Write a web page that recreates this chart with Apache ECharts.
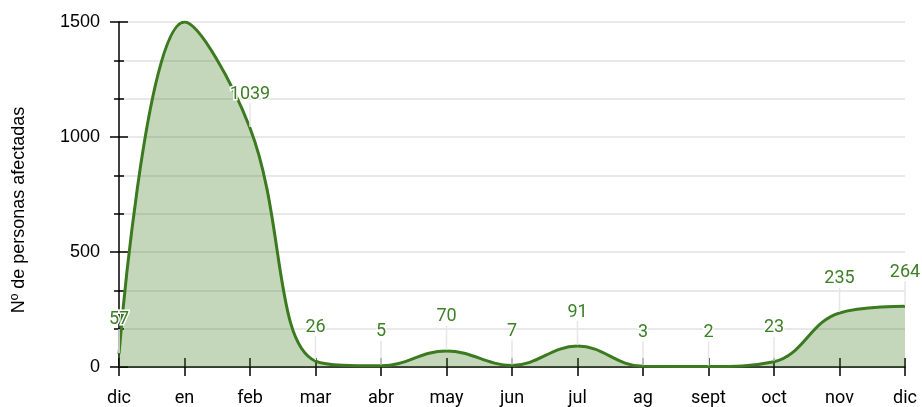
<!DOCTYPE html>
<html>
<head>
<meta charset="utf-8">
<script src="https://cdn.jsdelivr.net/npm/echarts@6/dist/echarts.min.js"></script>
<style>
  html, body { margin: 0; padding: 0; background: #fff; }
  #chart-wrapper { width: 922px; height: 407px; }
</style>
</head>
<body>
<div id="chart-wrapper"></div>
<script>
// months from dic to dic
const meses = ["dic", "en", "feb", "mar", "abr", "may", "jun", "jul", "ag", "sept", "oct", "nov", "dic"];
const afectados = [57, 1500, 1039, 26, 5, 70, 7, 91, 3, 2, 23, 235, 264];
const yTicks = [0, 500, 1000, 1500];

const verde = "#3b7a1f";
const gris = "#e2e2e2";

const chartDom = document.getElementById("chart-wrapper");
const chart = echarts.init(chartDom);

const option = {
  animation: false,
  backgroundColor: "#fff",
  grid: { left: 119, right: 17, top: 22, bottom: 40 },
  graphic: [
    {
      type: "text",
      x: 19,
      y: 210,
      rotation: Math.PI / 2,
      style: {
        text: "Nº de personas afectadas",
        font: '18px "Liberation Sans", Arial, sans-serif',
        fill: "#000",
        align: "center",
        verticalAlign: "middle",
      },
    },
  ],
  xAxis: [
    {
      type: "category",
      data: meses,
      boundaryGap: false,
      axisLine: { lineStyle: { color: "#000", width: 1.5 } },
      axisTick: { show: true, length: 9, lineStyle: { color: "#000", width: 1.5 } },
      axisLabel: {
        interval: 0,
        margin: 22,
        fontSize: 18,
        color: "#000",
        fontFamily: "Roboto",
      },
      splitLine: { show: false },
    },
    {
      type: "category",
      data: meses,
      position: "bottom",
      boundaryGap: false,
      axisLine: { show: false },
      axisTick: { show: true, inside: true, length: 9, lineStyle: { color: "#000", width: 1.5 } },
      axisLabel: { show: false },
      splitLine: { show: false },
    },
  ],
  yAxis: [
    {
      type: "value",
      min: yTicks[0],
      max: yTicks[yTicks.length - 1],
      interval: 500,
      axisLine: { show: true, lineStyle: { color: "#000", width: 1.5 } },
      axisTick: { show: true, length: 9, lineStyle: { color: "#000", width: 1.5 } },
      minorTick: { show: true, splitNumber: 3, length: 5, lineStyle: { color: "#000", width: 1.5 } },
      axisLabel: {
        margin: 19,
        fontSize: 18,
        color: "#000",
        fontFamily: "Liberation Sans",
        formatter: (v) => String(v),
      },
      splitLine: { show: true, lineStyle: { color: gris, width: 1.5 } },
      minorSplitLine: { show: true, lineStyle: { color: gris, width: 1.5 } },
    },
    {
      type: "value",
      position: "left",
      min: yTicks[0],
      max: yTicks[yTicks.length - 1],
      interval: 500,
      axisLine: { show: false },
      axisTick: { show: true, inside: true, length: 9, lineStyle: { color: "#000", width: 1.5 } },
      minorTick: { show: true, splitNumber: 3, length: 5, lineStyle: { color: "#000", width: 1.5 } },
      axisLabel: { show: false },
      splitLine: { show: false },
    },
  ],
  series: [
    {
      type: "line",
      z: 3,
      data: afectados,
      smooth: 0.4,
      clip: true,
      showSymbol: false,
      silent: true,
      lineStyle: { color: verde, width: 3 },
      itemStyle: { color: verde },
      areaStyle: { color: verde, opacity: 0.3 },
    },
    {
      // value labels with a thin leader line down to the point
      type: "custom",
      silent: true,
      z: 5,
      data: afectados.map((v, i) => [i, v]),
      encode: { x: 0, y: 1 },
      renderItem: function (params, api) {
        const p = api.coord([api.value(0), api.value(1)]);
        if (p[1] - 25 < 22) return;
        return {
          type: "group",
          children: [
            {
              type: "line",
              shape: { x1: p[0], y1: p[1] - 1, x2: p[0], y2: p[1] - 25 },
              style: { stroke: "#e6e6e6", lineWidth: 1.5 },
            },
            {
              type: "text",
              x: p[0],
              y: p[1] - 25,
              style: {
                text: String(api.value(1)),
                font: '18px Roboto, sans-serif',
                fill: "#3d7f26",
                stroke: "#fff",
                lineWidth: 3,
                strokeFirst: true,
                align: "center",
                verticalAlign: "bottom",
              },
            },
          ],
        };
      },
    },
  ],
};

option && chart.setOption(option);
</script>
</body>
</html>
